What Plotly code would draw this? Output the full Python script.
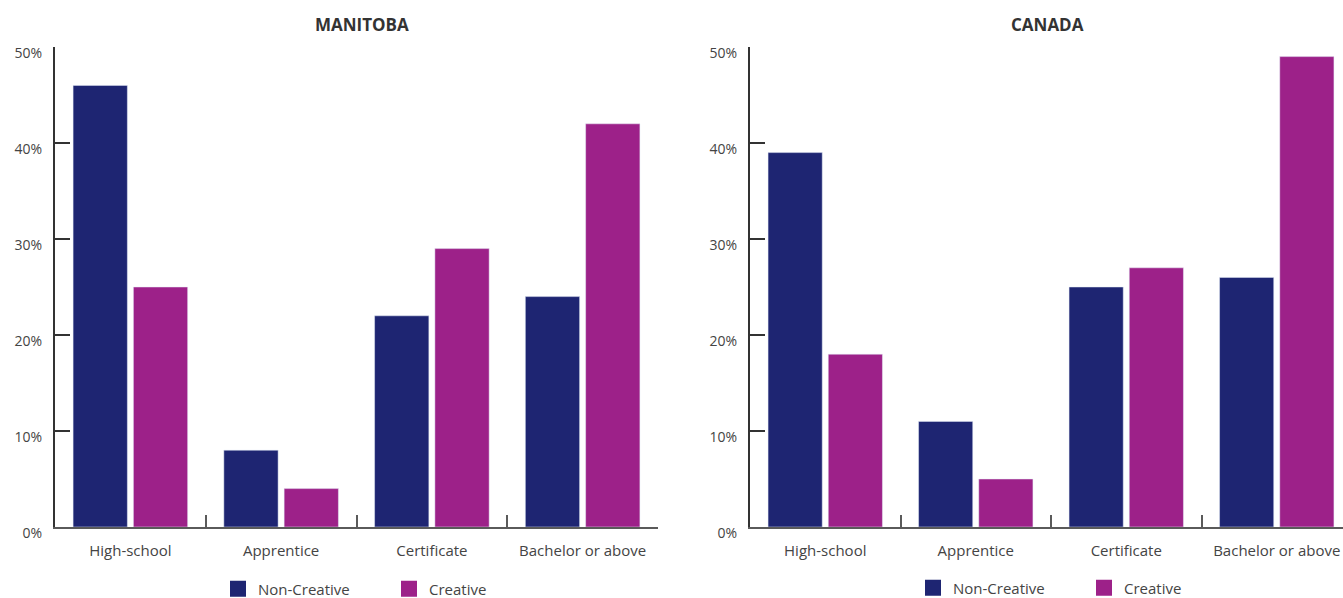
import plotly.graph_objects as go

# Share of workers by highest level of education (%)
categories = ["High-school", "Apprentice", "Certificate", "Bachelor or above"]
manitoba_non_creative = [46, 8, 22, 24]
manitoba_creative = [25, 4, 29, 42]
canada_non_creative = [39, 11, 25, 26]
canada_creative = [18, 5, 27, 49]
series_names = ["Non-Creative", "Creative"]
y_tickvals = [0, 10, 20, 30, 40, 50]
y_ticktext = ["0%", "10%", "20%", "30%", "40%", "50%"]

NAVY = "#1e2572"
PURPLE = "#9d2189"
COLORS = [NAVY, PURPLE]
FONT = "Open Sans"

fig = go.Figure()

panels = [
    ("x", "y", "legend", [manitoba_non_creative, manitoba_creative]),
    ("x2", "y2", "legend2", [canada_non_creative, canada_creative]),
]
for xa, ya, lg, series in panels:
    for name, color, values in zip(series_names, COLORS, series):
        fig.add_bar(x=categories, y=values, name=name, marker_color=color,
                    xaxis=xa, yaxis=ya, showlegend=False, legendgroup=name)
    # larger square swatches for the legend entries
    for name, color in zip(series_names, COLORS):
        fig.add_scatter(x=[None], y=[None], mode="markers", name=name,
                        marker=dict(symbol="square", size=16, color=color),
                        xaxis=xa, yaxis=ya, legend=lg, legendgroup=name,
                        hoverinfo="skip")

W, H = 1343, 598
ML, MR, MT, MB = 55, 0, 47, 71
pw = W - ML - MR

left_dom = [0, (658 - ML) / pw]
right_dom = [(750 - ML) / pw, 1.0]
right_end = -0.5 + 4 * (W - 750) / 602.0

xcommon = dict(
    type="category",
    showline=True, linecolor="#5a5a5a", linewidth=2,
    ticks="inside", tickson="boundaries", ticklen=12, tickwidth=2,
    tickcolor="#5a5a5a",
    tickfont=dict(family=FONT, size=15, color="#444444"),
    ticklabelstandoff=9,
    showgrid=False, zeroline=False, fixedrange=True,
)
ycommon = dict(
    range=[0, 50], tickvals=y_tickvals, ticktext=y_ticktext,
    showline=True, linecolor="#333333", linewidth=2,
    ticks="inside", ticklen=15, tickwidth=2, tickcolor="#333333",
    tickfont=dict(family=FONT, size=14, color="#444444"),
    ticklabelstandoff=8, ticklabelshift=6,
    showgrid=False, zeroline=False, fixedrange=True,
)

legend_common = dict(
    orientation="h", xanchor="left", yanchor="middle",
    xref="container", yref="container",
    font=dict(family=FONT, size=15, color="#444444"),
    entrywidth=126, entrywidthmode="pixels", itemsizing="trace",
    bgcolor="rgba(0,0,0,0)", tracegroupgap=0,
)

fig.update_layout(
    width=W, height=H,
    margin=dict(l=ML, r=MR, t=MT, b=MB),
    paper_bgcolor="white", plot_bgcolor="white",
    barmode="group", bargap=0.2, bargroupgap=0.1,
    xaxis=dict(domain=left_dom, range=[-0.5, 3.5], anchor="y", **xcommon),
    yaxis=dict(domain=[0, 1], anchor="x", **ycommon),
    xaxis2=dict(domain=right_dom, range=[-0.5, right_end], anchor="y2", **xcommon),
    yaxis2=dict(domain=[0, 1], anchor="x2", **ycommon),
    legend=dict(x=(238 - 20) / W, y=(H - 589) / H, **legend_common),
    legend2=dict(x=(933 - 20) / W, y=(H - 588) / H, **legend_common),
    annotations=[
        dict(text="<b>MANITOBA</b>", xref="paper", yref="paper",
             x=(362 - ML) / pw, y=(527 - 25) / 480, xanchor="center", yanchor="middle",
             showarrow=False, font=dict(family=FONT, size=17, color="#333333")),
        dict(text="<b>CANADA</b>", xref="paper", yref="paper",
             x=(1047 - ML) / pw, y=(527 - 25) / 480, xanchor="center", yanchor="middle",
             showarrow=False, font=dict(family=FONT, size=17, color="#333333")),
    ],
)

fig.write_html("out.html", config={"displayModeBar": False})
